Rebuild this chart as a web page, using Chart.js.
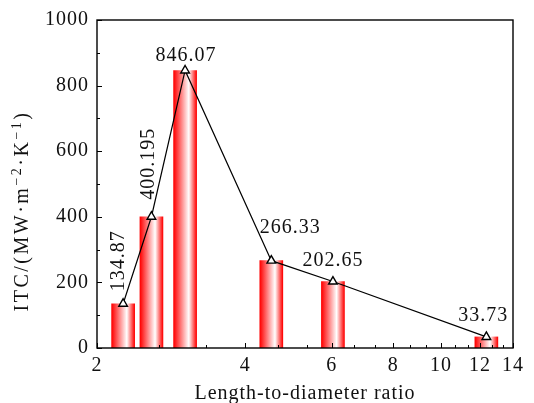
<!DOCTYPE html>
<html>
<head>
<meta charset="utf-8">
<script src="https://cdn.jsdelivr.net/npm/chart.js@4.4.1/dist/chart.umd.min.js"></script>
<style>
  body { margin: 0; background: #fff; }
  canvas { display: block; }
</style>
</head>
<body>
<canvas id="chart" width="534" height="403"></canvas>
<script>
// length-to-diameter ratio of each sample and its ITC value
const ratios = [2.26, 2.58, 3.02, 4.52, 6.03, 12.36];
const itc = [134.87, 400.195, 846.07, 266.33, 202.65, 33.73];
const valueText = ['134.87', '400.195', '846.07', '266.33', '202.65', '33.73'];

// axis ticks: labelled majors, plus two unlabelled minors between them on x
const xMajorTicks = [2, 4, 6, 8, 10, 12, 14];
const yMajorTicks = [0, 200, 400, 600, 800, 1000];

// where each value label sits relative to its marker (px), and whether it is vertical
const labelPlace = [
  { dx: -4, dy: -43, rot: true },
  { dx: -3, dy: -53, rot: true },
  { dx: 1, dy: -15, rot: false },
  { dx: 19, dy: -33, rot: false },
  { dx: 0, dy: -21, rot: false },
  { dx: -3, dy: -21, rot: false }
];

const FONT = '"Liberation Serif", "Times New Roman", serif';
const FSIZE = 20;
const TXT = '#111';
const BAR_W = 23;

const xTicks = [];
xMajorTicks.forEach((v, i) => {
  xTicks.push({ value: v, major: true });
  if (i < xMajorTicks.length - 1) {
    const step = (xMajorTicks[i + 1] - v) / 3;
    xTicks.push({ value: v + step, major: false });
    xTicks.push({ value: v + 2 * step, major: false });
  }
});

function barGradient(c) {
  const chart = c.chart;
  const xs = chart.scales.x;
  if (c.type !== 'data' || !xs || !chart.chartArea) return '#ff0000';
  const cx = xs.getPixelForValue(ratios[c.dataIndex]);
  const g = chart.ctx.createLinearGradient(cx - BAR_W / 2, 0, cx + BAR_W / 2, 0);
  g.addColorStop(0, '#ff0000');
  g.addColorStop(0.66, '#ffffff');
  g.addColorStop(1, '#ff0000');
  return g;
}

// a little tracking so the serif text runs as wide as the original typesetting
const tracking = {
  id: 'tracking',
  beforeDraw(chart) { chart.ctx.letterSpacing = '1px'; }
};

// inward tick marks and the closed frame round the plot
const frame = {
  id: 'frame',
  afterDraw(chart) {
    const { ctx, chartArea: a, scales } = chart;
    ctx.save();
    ctx.strokeStyle = '#000';
    ctx.lineWidth = 1;
    ctx.beginPath();
    xTicks.forEach(t => {
      const px = Math.round(scales.x.getPixelForValue(t.value)) + 0.5;
      const len = t.major ? 5 : 3;
      ctx.moveTo(px, a.bottom);
      ctx.lineTo(px, a.bottom - len);
    });
    for (let v = 0; v <= 1000; v += 100) {
      const py = Math.round(scales.y.getPixelForValue(v)) + 0.5;
      const len = v % 200 === 0 ? 5 : 3;
      ctx.moveTo(a.left, py);
      ctx.lineTo(a.left + len, py);
    }
    ctx.stroke();
    ctx.lineWidth = 1.4;
    ctx.strokeRect(a.left, a.top, a.right - a.left, a.bottom - a.top);

    // y axis title with raised exponents
    const parts = [
      { t: 'ITC/(MW·m', sup: false },
      { t: '−2', sup: true },
      { t: '·K', sup: false },
      { t: '−1', sup: true },
      { t: ')', sup: false }
    ];
    const big = FSIZE + 'px ' + FONT, small = '14px ' + FONT;
    ctx.letterSpacing = '2.5px';
    let total = 0;
    parts.forEach(p => { ctx.font = p.sup ? small : big; p.w = ctx.measureText(p.t).width; total += p.w; });
    ctx.translate(23, 211);
    ctx.rotate(-Math.PI / 2);
    ctx.fillStyle = TXT;
    ctx.textBaseline = 'middle';
    ctx.textAlign = 'left';
    let x = -total / 2;
    parts.forEach(p => {
      ctx.font = p.sup ? small : big;
      ctx.fillText(p.t, x, p.sup ? -6 : 0);
      x += p.w;
    });
    ctx.restore();
  }
};

// value labels above each marker
const valueLabels = {
  id: 'valueLabels',
  afterDatasetsDraw(chart) {
    const { ctx } = chart;
    const pts = chart.getDatasetMeta(1).data;
    ctx.save();
    ctx.fillStyle = TXT;
    ctx.font = FSIZE + 'px ' + FONT;
    ctx.textAlign = 'center';
    ctx.textBaseline = 'middle';
    pts.forEach((p, i) => {
      const pl = labelPlace[i];
      ctx.save();
      ctx.translate(p.x + pl.dx, p.y + pl.dy);
      if (pl.rot) ctx.rotate(-Math.PI / 2);
      ctx.fillText(valueText[i], 0, 0);
      ctx.restore();
    });
    ctx.restore();
  }
};

const ctx = document.getElementById('chart').getContext('2d');
const chart = new Chart(ctx, {
  type: 'bar',
  data: {
    datasets: [{
      type: 'bar',
      label: 'ITC',
      data: ratios.map((r, i) => ({ x: r, y: itc[i] })),
      backgroundColor: barGradient,
      borderWidth: 0,
      barThickness: BAR_W,
      order: 1
    }, {
      type: 'line',
      label: 'ITC trend',
      data: ratios.map((r, i) => ({ x: r, y: itc[i] })),
      borderColor: '#000',
      borderWidth: 1.2,
      pointStyle: 'triangle',
      pointRadius: 5,
      pointBorderWidth: 1.4,
      pointBorderColor: '#000',
      pointBackgroundColor: '#fff',
      tension: 0,
      order: 0
    }]
  },
  options: {
    responsive: false,
    animation: false,
    layout: { padding: { top: 15, right: 21, left: 0, bottom: 0 } },
    plugins: { legend: { display: false }, tooltip: { enabled: false } },
    scales: {
      x: {
        type: 'logarithmic',
        min: 2,
        max: 14,
        afterBuildTicks: s => { s.ticks = xTicks.map(t => ({ value: t.value })); },
        afterFit: s => { s.height = 403 - 348; },
        ticks: {
          autoSkip: false,
          maxRotation: 0,
          padding: 6,
          color: TXT,
          font: { family: FONT, size: FSIZE },
          callback: v => (xMajorTicks.includes(v) ? String(v) : '')
        },
        grid: { display: false, drawTicks: false },
        border: { display: false },
        title: {
          display: true,
          text: 'Length-to-diameter ratio',
          color: TXT,
          font: { family: FONT, size: FSIZE },
          padding: { top: 0, bottom: -3 }
        }
      },
      y: {
        min: 0,
        max: 1000,
        afterBuildTicks: s => { s.ticks = yMajorTicks.map(v => ({ value: v })); },
        afterFit: s => { s.width = 97; },
        ticks: {
          padding: 8,
          color: TXT,
          font: { family: FONT, size: FSIZE },
          callback: v => String(v)
        },
        grid: { display: false, drawTicks: false },
        border: { display: false }
      }
    }
  },
  plugins: [tracking, frame, valueLabels]
});
</script>
</body>
</html>
